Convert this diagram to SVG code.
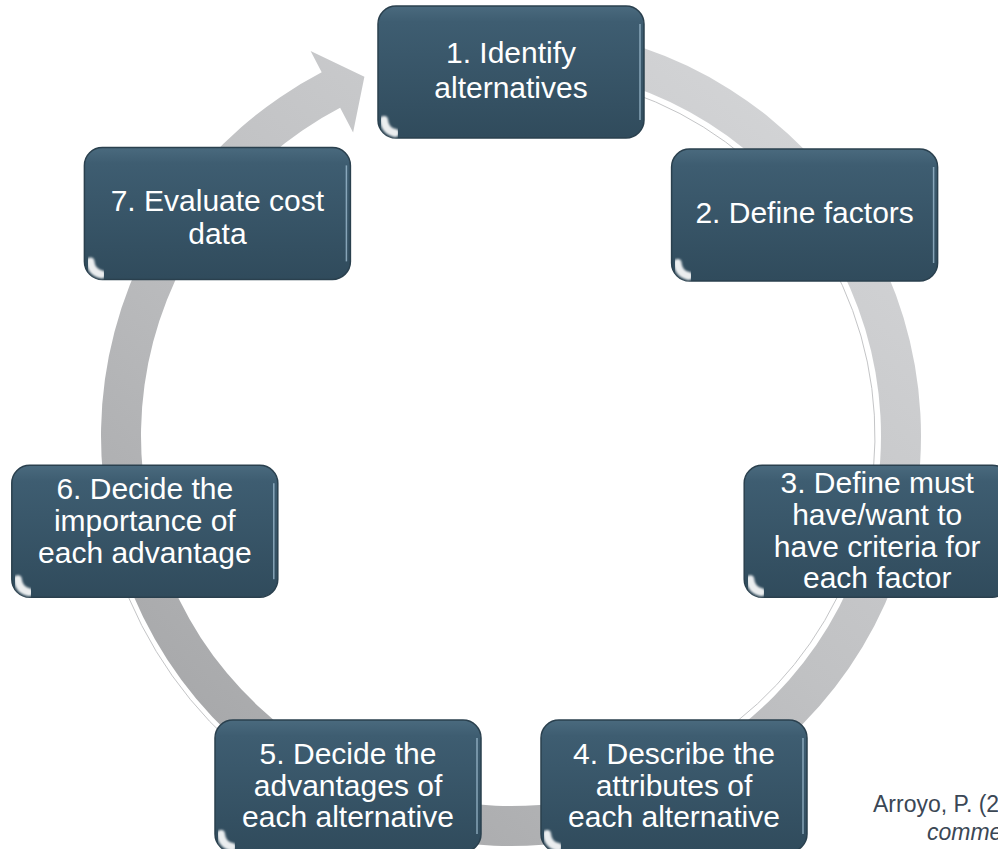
<svg xmlns="http://www.w3.org/2000/svg" width="998" height="849" viewBox="0 0 998 849">
<style>
.t{font-family:"Liberation Sans",Arial,sans-serif;font-size:30px;fill:#ffffff;text-anchor:middle}
.c{font-family:"Liberation Sans",Arial,sans-serif;font-size:23px;fill:#3b4755}
.thin{fill:none;stroke:#c4c5c7;stroke-width:1}
</style>
<defs>
<linearGradient id="ringGrad" gradientUnits="userSpaceOnUse" x1="820" y1="60" x2="200" y2="800">
<stop offset="0" stop-color="#d5d6d8"/>
<stop offset="0.5" stop-color="#c0c1c3"/>
<stop offset="1" stop-color="#a4a5a7"/>
</linearGradient>
<linearGradient id="nodeFill" x1="0" y1="0" x2="0" y2="1">
<stop offset="0" stop-color="#4a6a7e"/>
<stop offset="0.12" stop-color="#3e5d71"/>
<stop offset="1" stop-color="#304b5c"/>
</linearGradient>
<filter id="blur1" x="-20%" y="-50%" width="140%" height="200%"><feGaussianBlur stdDeviation="1.2"/></filter>
<g id="box">
<rect x="-133" y="-66" width="266" height="132" rx="18" fill="url(#nodeFill)" stroke="#2a404e" stroke-width="1.5"/>
<path d="M -115 -59 H 115" stroke="#a7bfcf" stroke-opacity="0.55" stroke-width="3" filter="url(#blur1)"/>
<path d="M 129 -48 V 48" stroke="#a9c7dc" stroke-width="1.5" stroke-opacity="0.7"/>
<path d="M -127 48 Q -126 59 -116 61" stroke="#ffffff" stroke-width="8" fill="none" stroke-linecap="round" stroke-opacity="0.9" filter="url(#blur1)"/>
</g>
</defs>
<rect width="998" height="849" fill="#ffffff"/>
<g id="connectors">
<path d="M 546.74 27.56 A 410 410 0 1 1 321.68 72.33 L 310.6 51.0 L 364.4 76.8 L 353.1 132.6 L 340.15 107.81 A 370 370 0 1 0 543.25 67.41 Z" fill="url(#ringGrad)"/>
<path class="thin" d="M 605.2 84.4 A 364 364 0 0 1 693 751.2"/>
<path class="thin" d="M 438.9 844.7 A 415 415 0 0 1 110.1 543.4"/>
</g>
<g id="node1" transform="translate(511,72)">
<use href="#box"/>
<text class="t" x="0" y="-9">1. Identify</text>
<text class="t" x="0" y="26">alternatives</text>
</g>
<g id="node2" transform="translate(804.6,215)">
<use href="#box"/>
<text class="t" x="0" y="8">2. Define factors</text>
</g>
<g id="node3" transform="translate(877.2,531.2)">
<use href="#box"/>
<text class="t" x="0" y="-38">3. Define must</text>
<text class="t" x="0" y="-6">have/want to</text>
<text class="t" x="0" y="26">have criteria for</text>
<text class="t" x="0" y="57">each factor</text>
</g>
<g id="node4" transform="translate(674,786)">
<use href="#box"/>
<text class="t" x="0" y="-22">4. Describe the</text>
<text class="t" x="0" y="10">attributes of</text>
<text class="t" x="0" y="41">each alternative</text>
</g>
<g id="node5" transform="translate(348,786)">
<use href="#box"/>
<text class="t" x="0" y="-22">5. Decide the</text>
<text class="t" x="0" y="10">advantages of</text>
<text class="t" x="0" y="41">each alternative</text>
</g>
<g id="node6" transform="translate(144.8,531.2)">
<use href="#box"/>
<text class="t" x="0" y="-32">6. Decide the</text>
<text class="t" x="0" y="0">importance of</text>
<text class="t" x="0" y="32">each advantage</text>
</g>
<g id="node7" transform="translate(217.4,213.4)">
<use href="#box"/>
<text class="t" x="0" y="-2">7. Evaluate cost</text>
<text class="t" x="0" y="31">data</text>
</g>
<g id="citation">
<text class="c" x="873" y="812">Arroyo, P. (2</text>
<text class="c" x="927" y="840" font-style="italic">comme</text>
</g>
</svg>
